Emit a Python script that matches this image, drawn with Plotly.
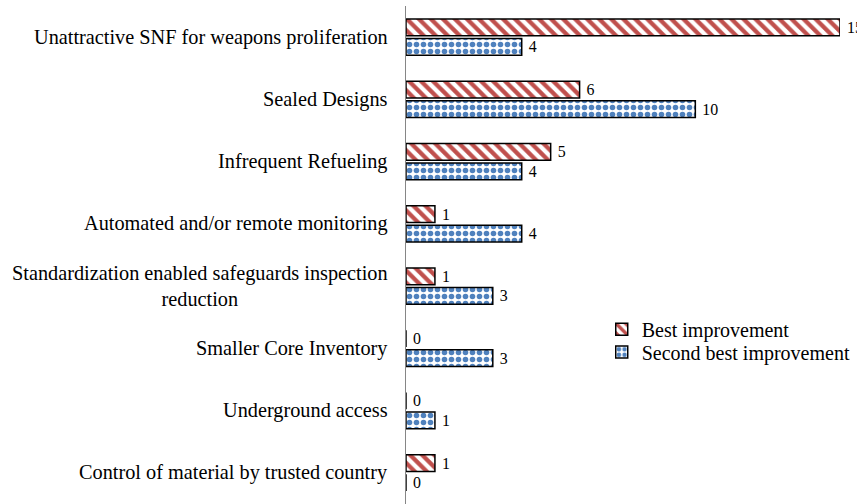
import plotly.graph_objects as go

categories = [
    "Unattractive SNF for weapons proliferation",
    "Sealed Designs",
    "Infrequent Refueling",
    "Automated and/or remote monitoring",
    "Standardization enabled safeguards inspection<br>reduction",
    "Smaller Core Inventory",
    "Underground access",
    "Control of material by trusted country",
]
best = [15, 6, 5, 1, 1, 0, 0, 1]
second = [4, 10, 4, 4, 3, 3, 1, 0]

RED = "#C0504D"
BLUE = "#4F81BD"
FONT = "Liberation Serif"
PAD = "\u00a0"

fig = go.Figure()
fig.add_trace(go.Bar(
    y=categories, x=best, orientation="h", name="Best improvement",
    texttemplate=PAD + "%{x}", textposition="outside", cliponaxis=False,
    textfont=dict(family=FONT, size=16, color="black"),
    marker=dict(color="white", line=dict(color="black", width=1.5),
                pattern=dict(shape="\\", fgcolor=RED, bgcolor="white", fgopacity=1,
                             size=8.5, solidity=0.5)),
    legend="legend",
))
fig.add_trace(go.Bar(
    y=categories, x=second, orientation="h", name="Second best improvement",
    texttemplate=PAD + "%{x}", textposition="outside", cliponaxis=False,
    textfont=dict(family=FONT, size=16, color="black"),
    marker=dict(color="white", line=dict(color="black", width=1.5),
                pattern=dict(shape=".", fgcolor=BLUE, bgcolor="white", fgopacity=1,
                             size=7, solidity=0.5)),
    legend="legend2",
))

for c in categories:
    fig.add_annotation(
        xref="paper", yref="y", x=0, y=c, text=c, showarrow=False,
        xanchor="right", xshift=-16, align="center",
        font=dict(family=FONT, size=20.3, color="black"),
    )

legend_common = dict(xanchor="left", yanchor="middle",
                     font=dict(family=FONT, size=20, color="black"),
                     bgcolor="rgba(0,0,0,0)", itemwidth=30)

fig.update_layout(
    width=857, height=504,
    margin=dict(l=406, r=17, t=6, b=0, autoexpand=False),
    paper_bgcolor="white", plot_bgcolor="white",
    barmode="group", bargap=0.375, bargroupgap=0.13,
    font=dict(family=FONT, size=18, color="black"),
    xaxis=dict(range=[0, 15], visible=False, showgrid=False, zeroline=False, automargin=False),
    yaxis=dict(autorange="reversed", showticklabels=False, showgrid=False, automargin=False,
               showline=True, linecolor="#868686", linewidth=1, ticks="", zeroline=False),
    showlegend=True,
    legend=dict(x=0.451, y=0.351, **legend_common),
    legend2=dict(x=0.451, y=0.305, **legend_common),
)

fig.write_html("out.html", config={"displayModeBar": False},
               post_script="document.body.style.margin='0';document.body.style.overflow='hidden';")
